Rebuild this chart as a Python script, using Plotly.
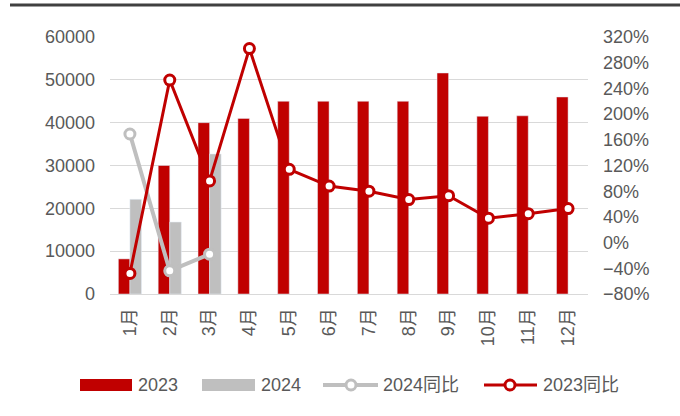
import plotly.graph_objects as go

months = ["1月", "2月", "3月", "4月", "5月", "6月", "7月", "8月", "9月", "10月", "11月", "12月"]
vol_2023 = [8200, 30000, 40000, 41000, 45000, 45000, 45000, 45000, 51600, 41500, 41600, 46000]
vol_2024 = [22100, 16800, 32700]
yoy_2023 = [-0.48, 2.53, 0.96, 3.02, 1.14, 0.88, 0.80, 0.67, 0.73, 0.38, 0.45, 0.53]
yoy_2024 = [1.69, -0.44, -0.18]

RED = "#C00000"
GRAY = "#BFBFBF"
TXT = "#595959"
FONT = "Liberation Sans, Arial, Noto Sans CJK SC, sans-serif"

fig = go.Figure()
fig.add_trace(go.Bar(x=months, y=vol_2023, name="2023", marker_color=RED))
fig.add_trace(go.Bar(x=months[:3], y=vol_2024, name="2024", marker_color=GRAY))
fig.add_trace(go.Scatter(x=months[:3], y=yoy_2024, name="2024同比", yaxis="y2", mode="lines+markers",
                         line=dict(color=GRAY, width=4),
                         marker=dict(symbol="circle", size=10, color="white", line=dict(color=GRAY, width=3))))
fig.add_trace(go.Scatter(x=months, y=yoy_2023, name="2023同比", yaxis="y2", mode="lines+markers",
                         line=dict(color=RED, width=3),
                         marker=dict(symbol="circle", size=10, color="white", line=dict(color=RED, width=3))))

L, R, T, B = 110, 588, 37, 294
W, H = 680, 416

def px(x):
    return (x - L) / (R - L)

def py(y):
    return (B - y) / (B - T)

shapes = [
    dict(type="line", xref="paper", yref="paper", x0=px(10), x1=px(680), y0=py(5), y1=py(5),
         line=dict(color="#404040", width=3)),
]
annotations = []

# custom legend
ly = 385
shapes.append(dict(type="rect", xref="paper", yref="paper", x0=px(80), x1=px(132), y0=py(391), y1=py(379),
                   fillcolor=RED, line=dict(width=0)))
shapes.append(dict(type="rect", xref="paper", yref="paper", x0=px(202), x1=px(255), y0=py(391), y1=py(379),
                   fillcolor=GRAY, line=dict(width=0)))
shapes.append(dict(type="line", xref="paper", yref="paper", x0=px(323), x1=px(378), y0=py(ly), y1=py(ly),
                   line=dict(color=GRAY, width=4)))
shapes.append(dict(type="circle", xref="paper", yref="paper", x0=px(346), x1=px(356), y0=py(390), y1=py(380),
                   fillcolor="white", line=dict(color=GRAY, width=3)))
shapes.append(dict(type="line", xref="paper", yref="paper", x0=px(484), x1=px(537), y0=py(ly), y1=py(ly),
                   line=dict(color=RED, width=3)))
shapes.append(dict(type="circle", xref="paper", yref="paper", x0=px(505), x1=px(515), y0=py(390), y1=py(380),
                   fillcolor="white", line=dict(color=RED, width=3)))
for xpos, label in [(136, "2023"), (259, "2024"), (381, "2024同比"), (541, "2023同比")]:
    annotations.append(dict(xref="paper", yref="paper", x=px(xpos), y=py(ly), text=label, showarrow=False,
                            xanchor="left", yanchor="middle", font=dict(size=18, color=TXT, family=FONT)))

fig.update_layout(
    width=W, height=H,
    margin=dict(l=L, r=W - R, t=T, b=H - B, pad=0, autoexpand=False),
    paper_bgcolor="white", plot_bgcolor="white",
    barmode="group", bargap=0.42, bargroupgap=0,
    showlegend=False,
    font=dict(family=FONT, size=18, color=TXT),
    xaxis=dict(type="category", range=[-0.5, len(months) - 0.5], tickangle=-90, showgrid=False,
               showline=True, linecolor="#D9D9D9",
               linewidth=1, ticks="", tickfont=dict(size=18, color=TXT), ticklabelstandoff=6,
               automargin=False),
    yaxis=dict(range=[0, 60000], dtick=10000, showgrid=True, gridcolor="#D9D9D9", gridwidth=1,
               zeroline=False, tickfont=dict(size=18, color=TXT), ticklabelstandoff=14, tickformat="d",
               automargin=False),
    yaxis2=dict(overlaying="y", side="right", range=[-0.8, 3.2], dtick=0.4, tickformat=".0%",
                showgrid=False, zeroline=False, tickfont=dict(size=18, color=TXT), ticklabelstandoff=14,
                automargin=False),
    shapes=shapes,
    annotations=annotations,
)

fig.write_html("out.html", config={"displayModeBar": False},
               post_script="document.body.style.margin='0';document.body.style.overflow='hidden';")
